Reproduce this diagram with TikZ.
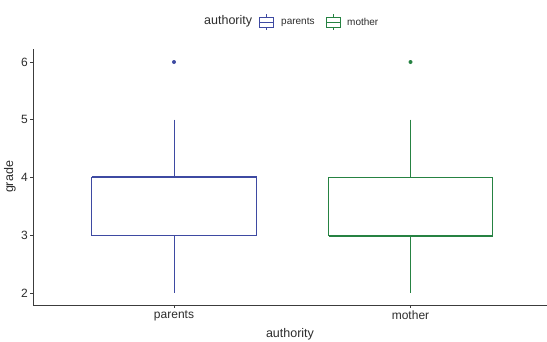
\documentclass[tikz,border=0pt]{standalone}
\usepackage{fontspec}
\setmainfont{Liberation Sans}
\definecolor{parblue}{RGB}{62,74,162}
\definecolor{mogreen}{RGB}{38,130,66}
\definecolor{axisgray}{RGB}{60,60,60}
\definecolor{txtgray}{RGB}{45,45,45}
\begin{document}
\begin{tikzpicture}[x=1pt,y=-1pt,
  axisline/.style={draw=axisgray,line width=0.9pt},
  tickmark/.style={draw=axisgray,line width=0.7pt},
  ticklabel/.style={font=\fontsize{12}{14}\selectfont,text=txtgray,inner sep=0pt},
  axistitle/.style={font=\fontsize{12.5}{14}\selectfont,text=txtgray,inner sep=0pt},
  legtext/.style={font=\fontsize{10}{12}\selectfont,text=txtgray,inner sep=0pt,anchor=west},
  boxline/.style={line width=1pt},
  medline/.style={line width=2pt},
  outlier/.style={inner sep=0pt,minimum size=4pt,circle}]
\useasboundingbox[fill=white] (0,0) rectangle (547,341);

% axes
\coordinate (origin) at (33,305);
\coordinate (ytop) at (33,49);
\coordinate (xend) at (547,305);
\draw[axisline] (ytop) -- (origin) -- (xend);

% y ticks and labels: y(v) = 293 - (v-2)*57.75
\foreach \v in {2,...,6}{
  \coordinate (yt\v) at (33,{293-(\v-2)*57.75});
  \draw[tickmark] (yt\v) -- ++(-3,0);
  \node[ticklabel,anchor=east] (yl\v) at ([xshift=-5pt]yt\v) {\v};
}
\node[axistitle,rotate=90] (ytitle) at (10,177) {grade};

% x ticks and labels
\coordinate (xp) at (174,305);
\coordinate (xm) at (410.5,305);
\draw[tickmark] (xp) -- ++(0,3);
\draw[tickmark] (xm) -- ++(0,3);
\node[ticklabel,anchor=north] (xlp) at ([yshift=-6pt]xp) {parents};
\node[ticklabel,anchor=north] (xlm) at ([yshift=-6pt]xm) {mother};
\node[axistitle] (xtitle) at (290,334) {authority};

% parents boxplot
\draw[boxline,color=parblue] (174,119.5) -- (174,177.5);
\draw[boxline,color=parblue] (174,235.5) -- (174,293);
\draw[boxline,color=parblue] (91.5,177.5) -- (256.5,177.5) -- (256.5,235.5) -- (91.5,235.5) -- cycle;
\draw[medline,color=parblue] (91.5,177) -- (256.5,177);
\node[outlier,fill=parblue] (op) at (174,62) {};

% mother boxplot
\draw[boxline,color=mogreen] (410.5,119.5) -- (410.5,177.5);
\draw[boxline,color=mogreen] (410.5,235.5) -- (410.5,293);
\draw[boxline,color=mogreen] (328.5,177.5) -- (492.5,177.5) -- (492.5,235.5) -- (328.5,235.5) -- cycle;
\draw[medline,color=mogreen] (328.5,235.5) -- (492.5,235.5);
\node[outlier,fill=mogreen] (om) at (410.5,62) {};

% legend
\node[axistitle,anchor=west] (legtitle) at (204,21) {authority};
\begin{scope}[line width=0.8pt]
  \draw[parblue] (259,17) rectangle (273,27);
  \draw[parblue] (259,22) -- (273,22);
  \draw[parblue] (266,14) -- (266,17) (266,27) -- (266,30);
  \draw[mogreen] (326,17) rectangle (340,27);
  \draw[mogreen] (326,22) -- (340,22);
  \draw[mogreen] (333,14) -- (333,17) (333,27) -- (333,30);
\end{scope}
\node[legtext] (legp) at (281,22) {parents};
\node[legtext] (legm) at (347,22) {mother};
\end{tikzpicture}
\end{document}
